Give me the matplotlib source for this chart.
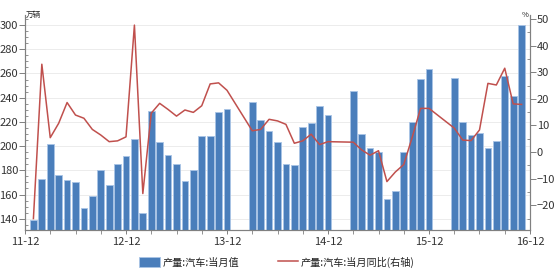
import numpy as np
import matplotlib
matplotlib.use("Agg")
import matplotlib.pyplot as plt
from matplotlib.ticker import MultipleLocator, FixedLocator
from matplotlib.patches import Patch
from matplotlib.lines import Line2D

plt.rcParams['font.family'] = ['Noto Sans CJK SC', 'DejaVu Sans']

nan = np.nan
# Months 2012-01 .. 2016-11 (index 1..59, 0 = 2011-12)
production = [
    139, 173, 202, 176, 172, 170, 149, 159, 180, 168, 185, 192,      # 2012
    206, 145, 229, 203, 193, 185, 171, 180, 208, 208, 228, 231,      # 2013
    nan, nan, 236.5, 221.4, 212.6, 203.5, 185.6, 184.5, 215.6, 219.4, 232.9, 225.5,  # 2014
    nan, nan, 245.6, 209.8, 198.6, 195.0, 156.2, 163.0, 195.5, 220.0, 255.2, 263.4,  # 2015
    nan, nan, 256.0, 220.3, 209.0, 211.2, 198.3, 204.0, 258.0, 241.4, 300.3,         # 2016
]
yoy = [
    -25.0, 33.0, 5.4, 10.8, 18.6, 13.9, 12.7, 8.5, 6.4, 3.9, 4.2, 5.7,
    47.7, -15.6, 14.6, 18.3, 16.0, 13.5, 15.8, 14.9, 17.4, 25.6, 26.0, 23.2,
    nan, nan, 8.0, 8.5, 12.3, 11.7, 10.4, 3.3, 4.2, 6.7, 2.8, 3.9,
    nan, nan, 3.7, 0.8, -1.2, 0.5, -11.1, -7.5, -4.7, 5.5, 16.4, 16.4,
    nan, nan, 9.0, 4.5, 4.3, 8.3, 25.8, 25.2, 31.5, 18.1, 17.9,
]
tick_labels = ['11-12', '12-12', '13-12', '14-12', '15-12', '16-12']
label_bar = '产量:汽车:当月值'
label_line = '产量:汽车:当月同比(右轴)'

x = np.arange(1, len(production) + 1)
prod = np.array(production, dtype=float)
yy = np.array(yoy, dtype=float)

fig = plt.figure(figsize=(5.54, 2.72), dpi=100)
ax = fig.add_axes([25/554, 42/272, 505/554, 215/272])
ax2 = ax.twinx()

bar_color = '#4a7ebb'
line_color = '#c0504d'
tick_color = '#333333'
spine_color = '#808080'

ax.bar(x, prod, width=0.8, color=bar_color, edgecolor='#a9c4e6', linewidth=0.6, zorder=2)
ax.set_xlim(0, 60)
ax.set_ylim(130.7, 308.3)
ax.yaxis.set_major_locator(MultipleLocator(20))
ax.yaxis.set_minor_locator(MultipleLocator(5))
ax.grid(axis='y', which='major', color='#ececec', linewidth=0.7, zorder=0)
ax.set_axisbelow(True)

m = ~np.isnan(yy)
ax2.plot(x[m], yy[m], color=line_color, linewidth=1.1, zorder=3)
ax2.set_ylim(-29.3, 51.5)
ax2.yaxis.set_major_locator(MultipleLocator(10))
ax2.yaxis.set_minor_locator(MultipleLocator(5))

ax.xaxis.set_major_locator(FixedLocator([0, 12, 24, 36, 48, 60]))
ax.set_xticklabels(tick_labels)
ax.xaxis.set_minor_locator(MultipleLocator(3))

for a in (ax, ax2):
    a.spines['top'].set_visible(False)
    for s in ('left', 'right', 'bottom'):
        a.spines[s].set_color(spine_color)
        a.spines[s].set_linewidth(0.8)
    a.tick_params(axis='both', which='major', direction='out', length=4, width=0.7,
                  color=spine_color, labelsize=8, labelcolor=tick_color, pad=1)
    a.tick_params(axis='both', which='minor', direction='in', length=2.5, width=0.6,
                  color=spine_color)
ax.tick_params(axis='x', which='major', length=3, pad=2)
ax.tick_params(axis='x', which='minor', direction='out', length=3)

fig.text(26/554, 1 - 15/272, '万辆', fontsize=5.5, color='#222222', va='center', ha='left')
fig.text(529/554, 1 - 15/272, '%', fontsize=5.5, color='#222222', va='center', ha='right')

handles = [Patch(facecolor=bar_color, edgecolor='#a9c4e6', linewidth=0.6),
           Line2D([0], [0], color=line_color, linewidth=1.1)]
fig.legend(handles, [label_bar, label_line], loc='center', bbox_to_anchor=(0.5, 1 - 262/272),
           ncol=2, frameon=False, fontsize=7.3, handlelength=2.0, handleheight=1.0,
           handletextpad=0.3, columnspacing=3.8, labelcolor='#222222')

fig.savefig('out.png', dpi=100)
